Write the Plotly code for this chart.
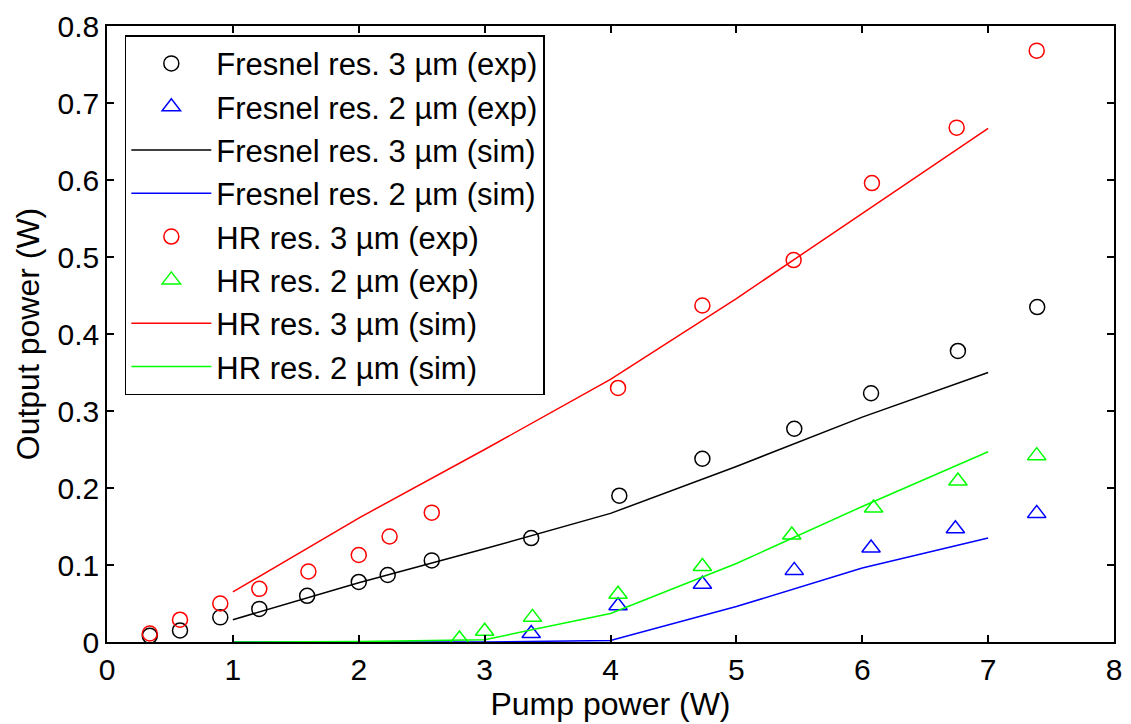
import plotly.graph_objects as go

# Experimental data
fr3_exp_x = [0.34, 0.58, 0.90, 1.21, 1.59, 2.00, 2.23, 2.58, 3.37, 4.07, 4.73, 5.46, 6.07, 6.76, 7.39]
fr3_exp_y = [0.008, 0.015, 0.032, 0.043, 0.060, 0.078, 0.087, 0.106, 0.135, 0.190, 0.238, 0.277, 0.323, 0.378, 0.435]

hr3_exp_x = [0.34, 0.58, 0.90, 1.21, 1.60, 2.00, 2.245, 2.58, 4.06, 4.73, 5.455, 6.077, 6.75, 7.386]
hr3_exp_y = [0.011, 0.029, 0.050, 0.069, 0.0915, 0.113, 0.137, 0.168, 0.330, 0.437, 0.496, 0.596, 0.668, 0.768]

fr2_exp_x = [3.37, 4.06, 4.73, 5.46, 6.07, 6.74, 7.386]
fr2_exp_y = [0.011, 0.047, 0.075, 0.093, 0.122, 0.147, 0.167]

hr2_exp_x = [2.80, 3.00, 3.38, 4.06, 4.73, 5.44, 6.09, 6.76, 7.386]
hr2_exp_y = [0.004, 0.014, 0.032, 0.062, 0.098, 0.139, 0.174, 0.209, 0.242]

# Simulation data
sim_x = [1, 2, 3, 4, 5, 6, 7]
fr3_sim_y = [0.029, 0.077, 0.121, 0.167, 0.228, 0.292, 0.350]
fr2_sim_y = [0.0, 0.0, 0.0, 0.002, 0.046, 0.096, 0.135]
hr3_sim_y = [0.065, 0.161, 0.250, 0.341, 0.446, 0.557, 0.667]
hr2_sim_y = [0.0, 0.0005, 0.003, 0.037, 0.102, 0.176, 0.247]

BLACK, BLUE, RED, GREEN = "#000000", "#0000FF", "#FF0000", "#00FF00"
FONT = "Liberation Sans, Arial, Helvetica, sans-serif"

fig = go.Figure()

def exp_trace(x, y, name, color, symbol, size):
    return go.Scatter(x=x, y=y, mode="markers", name=name,
                      marker=dict(symbol=symbol, size=size, color=color,
                                  line=dict(color=color, width=1.5)))

def sim_trace(x, y, name, color):
    return go.Scatter(x=x, y=y, mode="lines", name=name,
                      line=dict(color=color, width=1.5))

fig.add_trace(exp_trace(fr3_exp_x, fr3_exp_y, "Fresnel res. 3 µm (exp)", BLACK, "circle-open", 15))
fig.add_trace(exp_trace(fr2_exp_x, fr2_exp_y, "Fresnel res. 2 µm (exp)", BLUE, "triangle-up-open", 16))
fig.add_trace(sim_trace(sim_x, fr3_sim_y, "Fresnel res. 3 µm (sim)", BLACK))
fig.add_trace(sim_trace(sim_x, fr2_sim_y, "Fresnel res. 2 µm (sim)", BLUE))
fig.add_trace(exp_trace(hr3_exp_x, hr3_exp_y, "HR res. 3 µm (exp)", RED, "circle-open", 15))
fig.add_trace(exp_trace(hr2_exp_x, hr2_exp_y, "HR res. 2 µm (exp)", GREEN, "triangle-up-open", 16))
fig.add_trace(sim_trace(sim_x, hr3_sim_y, "HR res. 3 µm (sim)", RED))
fig.add_trace(sim_trace(sim_x, hr2_sim_y, "HR res. 2 µm (sim)", GREEN))

axis_common = dict(showgrid=False, zeroline=False, showline=True, linecolor="black",
                   linewidth=1.5, mirror="ticks", ticks="inside", ticklen=7,
                   tickwidth=1.5, tickcolor="black",
                   tickfont=dict(family=FONT, size=30, color="black"))

fig.update_layout(
    width=1131, height=724,
    margin=dict(l=107, r=9, t=20, b=82),
    paper_bgcolor="white", plot_bgcolor="white",
    font=dict(family=FONT, size=30, color="black"),
    xaxis=dict(range=[0, 8], dtick=1, tick0=0,
               title=dict(text="Pump power (W)", font=dict(family=FONT, size=32), standoff=4),
               **axis_common),
    yaxis=dict(range=[0, 0.8], dtick=0.1, tick0=0,
               title=dict(text="Output power (W)", font=dict(family=FONT, size=32), standoff=8),
               **axis_common),
    legend=dict(x=0.0177, y=0.985, xanchor="left", yanchor="top",
                bgcolor="white", bordercolor="black", borderwidth=1.5,
                font=dict(family=FONT, size=31, color="black"),
                traceorder="normal", itemwidth=80),
    showlegend=True,
)

fig.write_html("out.html")
